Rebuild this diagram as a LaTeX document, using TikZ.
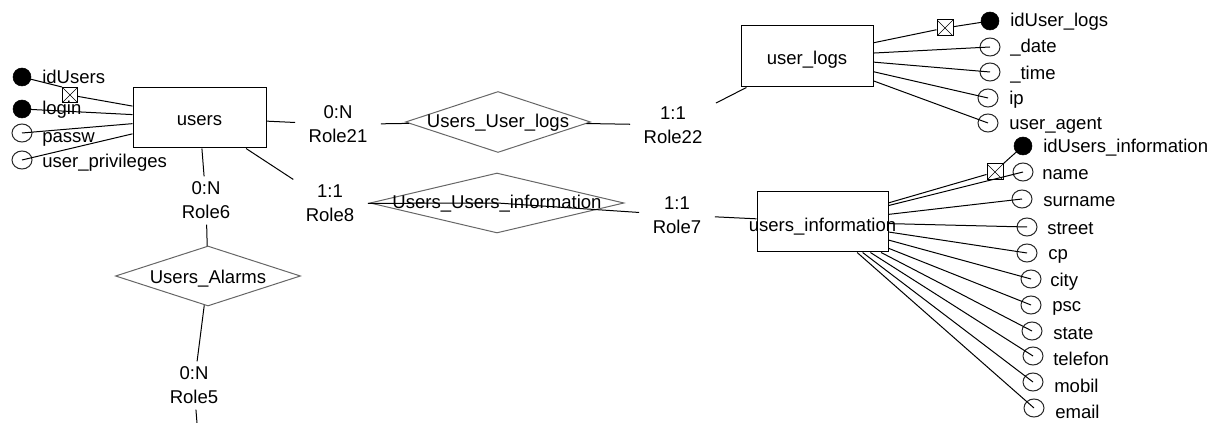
\documentclass[tikz,border=0pt]{standalone}
\usepackage{fontspec}
\setmainfont{Liberation Sans}
\usetikzlibrary{shapes.geometric}
% one unit of the drawing grid
\newcommand{\pxl}{0.75pt}
\begin{document}
\begin{tikzpicture}[x=0.75pt,y=-0.75pt,
  every node/.style={font=\fontsize{13.9}{18}\selectfont, text=black},
  line/.style={draw=black, line width=0.75pt},
  entity/.style={draw=black, line width=0.75pt, rectangle, inner sep=0pt},
  ename/.style={anchor=base, inner sep=0pt, yshift=-5.8pt},
  rel/.style={draw=black!60, line width=0.75pt, diamond, inner sep=0pt},
  rname/.style={anchor=base, inner sep=0pt, yshift=-4.5pt},
  role/.style={align=center, inner xsep=10pt, inner ysep=4pt},
  attr/.style={draw=black!85, line width=0.75pt, ellipse, minimum width=20*\pxl, minimum height=18*\pxl, inner sep=0pt},
  keyattr/.style={draw=black, fill=black, circle, minimum size=18*\pxl, inner sep=0pt},
  keybox/.style={draw=black, line width=0.75pt, rectangle, minimum size=15*\pxl, inner sep=0pt,
    path picture={\draw[line width=0.5pt]
      (path picture bounding box.north west) -- (path picture bounding box.south east)
      (path picture bounding box.north east) -- (path picture bounding box.south west);}},
  attrlabel/.style={anchor=base west, inner sep=0pt},
]
\useasboundingbox (0,0) rectangle (1210,423);

% entities
\node[entity, minimum width=133*\pxl, minimum height=60*\pxl] (users) at (199.5,118) {};
\node[ename] (users_t) at (users.center) {users};
\node[entity, minimum width=132*\pxl, minimum height=61*\pxl] (ulogs) at (807,56.5) {};
\node[ename] (ulogs_t) at (ulogs.center) {user\_logs};
\node[entity, minimum width=131*\pxl, minimum height=60*\pxl] (uinfo) at (822.5,222) {};
\node[ename, yshift=-1pt] (uinfo_t) at (uinfo.center) {users\_information};

% relationships
\node[rel, minimum width=185*\pxl, minimum height=61*\pxl] (r1) at (498,122) {};
\node[rname] (r1_t) at (r1.center) {Users\_User\_logs};
\node[rel, minimum width=254*\pxl, minimum height=60*\pxl] (r2) at (497,203) {};
\node[rname] (r2_t) at (r2.center) {Users\_Users\_information};
\node[rel, minimum width=185*\pxl, minimum height=60*\pxl] (r3) at (208,276) {};
\node[rname, yshift=-1pt] (r3_t) at (r3.center) {Users\_Alarms};

% roles with cardinalities
\node[role] (ro21) at (338,124.5) {0:N\\Role21};
\node[role] (ro22) at (673,125) {1:1\\Role22};
\node[role] (ro8) at (330,203.5) {1:1\\Role8};
\node[role] (ro7) at (677,215) {1:1\\Role7};
\node[role] (ro6) at (206,200.5) {0:N\\Role6};
\node[role] (ro5) at (194,385.5) {0:N\\Role5};
\coordinate (alarms) at (197,423);

% relationship connectors
\draw[line] (users) -- (ro21);
\draw[line] (ro21) -- (r1);
\draw[line] (r1) -- (ro22);
\draw[line] (ro22) -- (ulogs);
\draw[line] (users) -- (ro8);
\draw[line] (ro8) -- (r2.center) -- (ro7);
\draw[line] (ro7) -- (uinfo);
\draw[line] (users) -- (ro6);
\draw[line] (ro6) -- (r3);
\draw[line] (r3) -- (ro5);
\draw[line] (ro5) -- (alarms);

% attributes of users
\node[keyattr] (u_id) at (22,77) {};
\node[keyattr] (u_login) at (22,109) {};
\node[attr] (u_passw) at (22,133) {};
\node[attr] (u_priv) at (22,160) {};
\node[keybox] (k_users) at (70,95) {};
\node[attrlabel] (u_id_t) at (42,84) {idUsers};
\node[attrlabel] (u_login_t) at (42,115) {login};
\node[attrlabel] (u_passw_t) at (42,143) {passw};
\node[attrlabel] (u_priv_t) at (42,168) {user\_privileges};
\draw[line] (users) -- (k_users);
\draw[line] (k_users.north west) -- (u_id.center);
\draw[line] (users) -- (u_login.center);
\draw[line] (users) -- (u_passw.center);
\draw[line] (users) -- (u_priv.center);

% attributes of user_logs
\node[keyattr] (l_id) at (990,21) {};
\node[attr] (l_date) at (990,47) {};
\node[attr] (l_time) at (990,72) {};
\node[attr] (l_ip) at (988,98) {};
\node[attr] (l_agent) at (988,123) {};
\node[keybox, minimum size=16*\pxl] (k_logs) at (945,28) {};
\node[attrlabel] (l_id_t) at (1010,27) {idUser\_logs};
\node[attrlabel] (l_date_t) at (1010,53) {\_date};
\node[attrlabel] (l_time_t) at (1010,80) {\_time};
\node[attrlabel] (l_ip_t) at (1009,105) {ip};
\node[attrlabel] (l_agent_t) at (1009,130) {user\_agent};
\draw[line] (ulogs) -- (k_logs);
\draw[line] (k_logs) -- (l_id.center);
\draw[line] (ulogs) -- (l_date.center);
\draw[line] (ulogs) -- (l_time.center);
\draw[line] (ulogs) -- (l_ip.center);
\draw[line] (ulogs) -- (l_agent.center);

% attributes of users_information
\node[keyattr] (i_id) at (1023,146) {};
\node[attr] (i_name) at (1023,172) {};
\node[attr] (i_surname) at (1022,199) {};
\node[attr] (i_street) at (1027,227) {};
\node[attr] (i_cp) at (1027,253) {};
\node[attr] (i_city) at (1031,279) {};
\node[attr] (i_psc) at (1031,305) {};
\node[attr] (i_state) at (1032,331) {};
\node[attr] (i_tel) at (1033,356) {};
\node[attr] (i_mobil) at (1033,382) {};
\node[attr] (i_email) at (1034,408) {};
\node[keybox, minimum size=16*\pxl] (k_info) at (995,172) {};
\node[attrlabel] (i_id_t) at (1043,153) {idUsers\_information};
\node[attrlabel] (i_name_t) at (1042,180) {name};
\node[attrlabel] (i_surname_t) at (1043,207) {surname};
\node[attrlabel] (i_street_t) at (1047,235) {street};
\node[attrlabel] (i_cp_t) at (1048,260) {cp};
\node[attrlabel] (i_city_t) at (1050,287) {city};
\node[attrlabel] (i_psc_t) at (1052,312) {psc};
\node[attrlabel] (i_state_t) at (1053,340) {state};
\node[attrlabel] (i_tel_t) at (1053,366) {telefon};
\node[attrlabel] (i_mobil_t) at (1054,393) {mobil};
\node[attrlabel] (i_email_t) at (1055,419) {email};
\draw[line] (uinfo) -- (k_info);
\draw[line] (k_info.north east) -- (i_id.center);
\foreach \a in {i_name,i_surname,i_street,i_cp,i_city,i_psc,i_state,i_tel,i_mobil,i_email}
  \draw[line] (uinfo) -- (\a.center);
\end{tikzpicture}
\end{document}
